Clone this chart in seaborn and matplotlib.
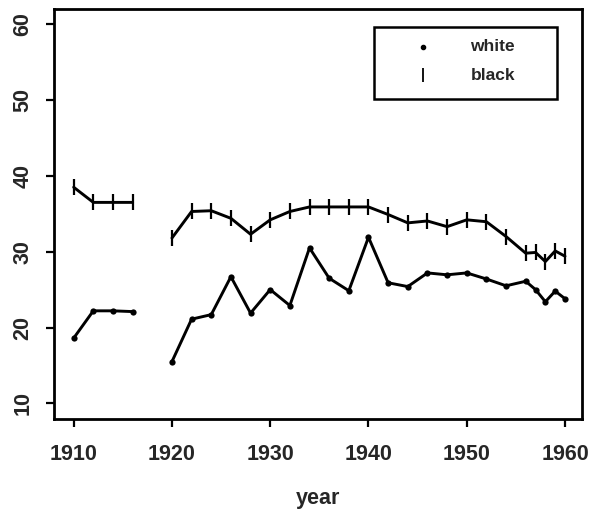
import numpy as np
import pandas as pd
import matplotlib
matplotlib.use("Agg")
import matplotlib.pyplot as plt
import seaborn as sns
from matplotlib.patches import Rectangle

# Survey years (no observation for 1918, which breaks the lines)
years_early = [1910, 1912, 1914, 1916]
years_late = [1920, 1922, 1924, 1926, 1928, 1930, 1932, 1934, 1936, 1938,
              1940, 1942, 1944, 1946, 1948, 1950, 1952, 1954, 1956, 1957,
              1958, 1959, 1960]

white_early = [18.6, 22.2, 22.2, 22.1]
white_late = [15.5, 21.1, 21.7, 26.7, 21.9, 25.0, 22.9, 30.5, 26.5, 24.85,
              31.9, 25.9, 25.4, 27.2, 26.95, 27.2, 26.4, 25.5, 26.1, 25.0,
              23.4, 24.8, 23.8]

black_early = [38.5, 36.5, 36.5, 36.5]
black_late = [31.8, 35.3, 35.4, 34.4, 32.3, 34.2, 35.3, 35.9, 35.9, 35.9,
              35.9, 34.9, 33.8, 34.05, 33.3, 34.2, 33.95, 32.0, 29.8, 29.9,
              28.7, 30.1, 29.4]

x_ticks = [1910, 1920, 1930, 1940, 1950, 1960]
y_ticks = [10, 20, 30, 40, 50, 60]

rows = []
for race, early, late in [("white", white_early, white_late),
                          ("black", black_early, black_late)]:
    for y, v in zip(years_early, early):
        rows.append({"year": y, "value": v, "race": race, "seg": 0})
    for y, v in zip(years_late, late):
        rows.append({"year": y, "value": v, "race": race, "seg": 1})
df = pd.DataFrame(rows)

sns.set_style("ticks")
plt.rcParams["font.family"] = ["Liberation Sans", "DejaVu Sans"]
plt.rcParams["font.weight"] = "bold"

fig = plt.figure(figsize=(5.91, 5.21), dpi=100)
ax = fig.add_axes([0.0914, 0.1967, 0.8929, 0.7860])

styles = {
    "white": dict(marker="o", markersize=4.5, markeredgewidth=0),
    "black": dict(marker="|", markersize=11, markeredgewidth=1.6),
}
for (race, seg), sub in df.groupby(["race", "seg"]):
    sns.lineplot(data=sub, x="year", y="value", ax=ax, color="black",
                 linewidth=2.1, estimator=None, sort=True,
                 markeredgecolor="black", markerfacecolor="black",
                 **styles[race])

ax.set_xlim(1908.0, 1961.7)
ax.set_ylim(8.0, 62.0)
ax.set_xticks(x_ticks)
ax.set_yticks(y_ticks)
ax.set_xticklabels([str(t) for t in x_ticks], fontsize=15.5, fontweight="bold")
ax.set_yticklabels([str(t) for t in y_ticks], fontsize=15.5, fontweight="bold",
                   rotation=90, va="center")
ax.tick_params(axis="x", direction="out", length=6, width=1.6,
               color="black", pad=12)
ax.tick_params(axis="y", direction="out", length=6, width=1.6,
               color="black", pad=9)
ax.set_xlabel("year", fontsize=15.5, fontweight="bold", labelpad=17)
ax.set_ylabel("")
for s in ax.spines.values():
    s.set_visible(True)
    s.set_linewidth(2.0)
    s.set_color("black")

# Legend box
ax.add_patch(Rectangle((0.606, 0.780), 0.347, 0.176, transform=ax.transAxes,
                       fill=False, edgecolor="black", linewidth=1.8,
                       clip_on=False, zorder=5))
ax.plot([0.699], [0.908], transform=ax.transAxes, marker="o", markersize=3,
        color="black", linestyle="none", clip_on=False)
ax.plot([0.699], [0.838], transform=ax.transAxes, marker="|", markersize=10,
        markeredgewidth=1.3, color="black", linestyle="none", clip_on=False)
ax.text(0.789, 0.908, "white", transform=ax.transAxes, fontsize=12.5,
        fontweight="bold", va="center", ha="left")
ax.text(0.789, 0.838, "black", transform=ax.transAxes, fontsize=12.5,
        fontweight="bold", va="center", ha="left")

fig.savefig("out.png", dpi=100, facecolor="white")
